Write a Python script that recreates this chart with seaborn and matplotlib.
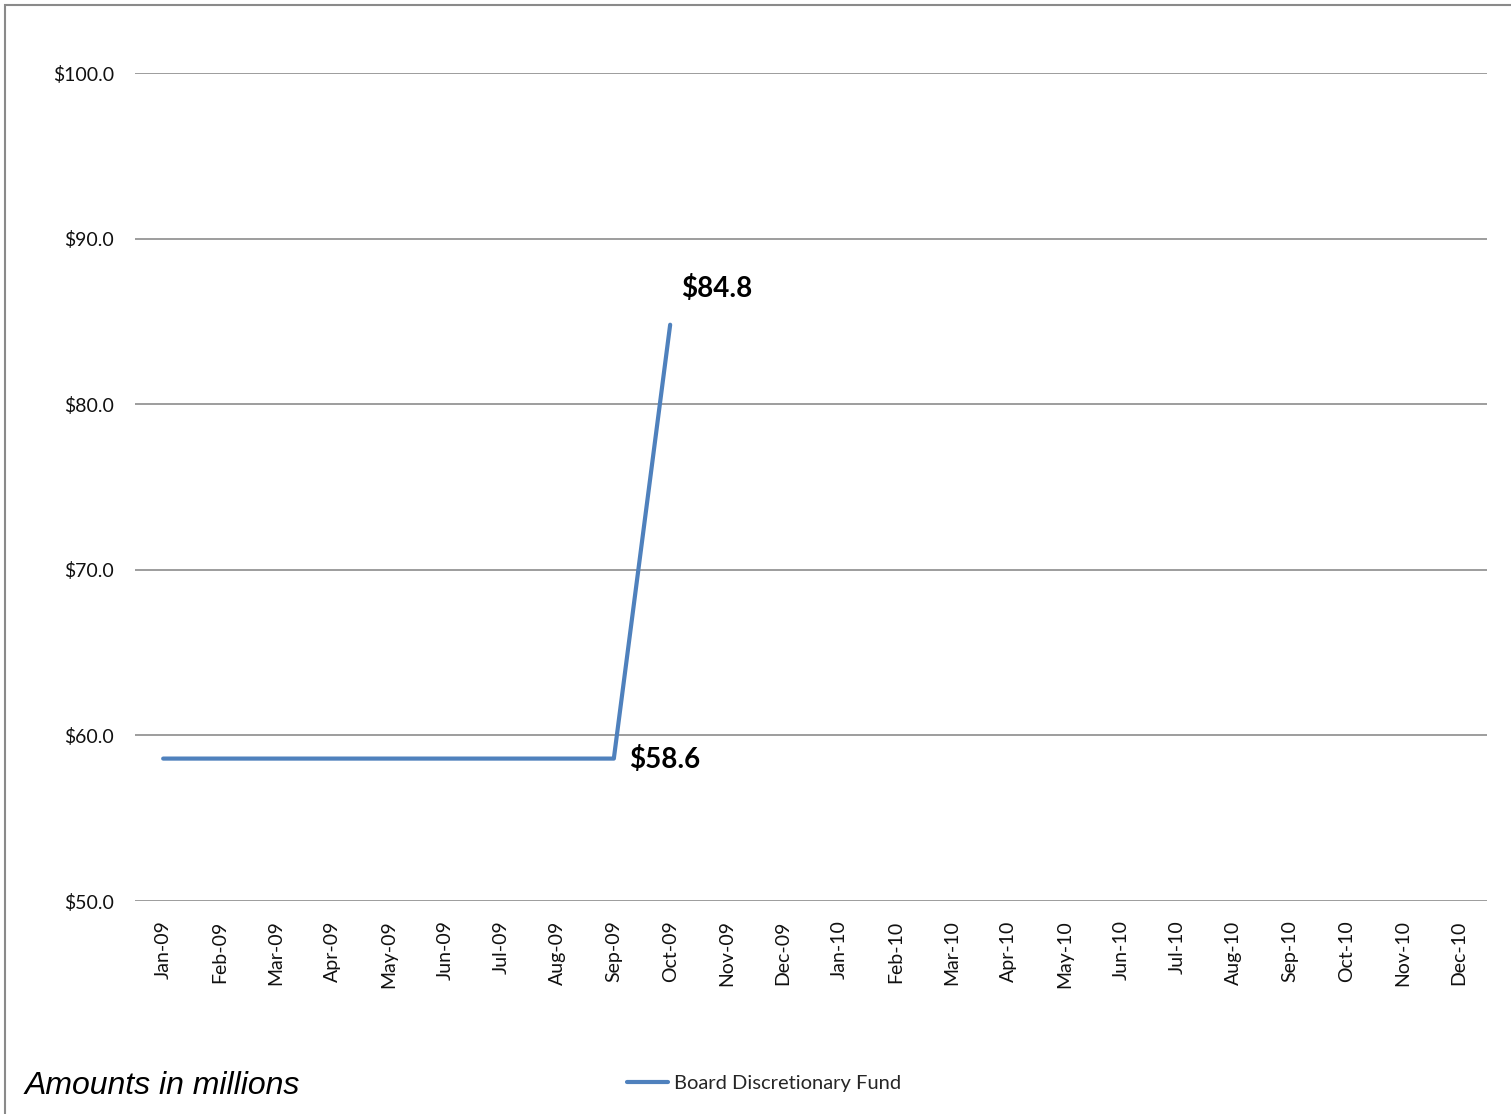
import numpy as np
import pandas as pd
import matplotlib
matplotlib.use("Agg")
import matplotlib.pyplot as plt
import seaborn as sns
from matplotlib.patches import Rectangle

# chart values
months = ['Jan-09', 'Feb-09', 'Mar-09', 'Apr-09', 'May-09', 'Jun-09',
          'Jul-09', 'Aug-09', 'Sep-09', 'Oct-09', 'Nov-09', 'Dec-09',
          'Jan-10', 'Feb-10', 'Mar-10', 'Apr-10', 'May-10', 'Jun-10',
          'Jul-10', 'Aug-10', 'Sep-10', 'Oct-10', 'Nov-10', 'Dec-10']
fund = [58.6, 58.6, 58.6, 58.6, 58.6, 58.6, 58.6, 58.6, 58.6, 84.8] + [np.nan] * 14
y_ticks = [50, 60, 70, 80, 90, 100]
series_name = 'Board Discretionary Fund'

LINE_BLUE = '#4F81BD'
GRID_GRAY = '#8C8C8C'


def main():
    sns.set_theme(style='white')
    plt.rcParams['font.family'] = ['Lato', 'DejaVu Sans']

    df = pd.DataFrame({'pos': np.arange(len(months)), 'value': fund})

    fig = plt.figure(figsize=(15.11, 11.14), dpi=100)
    ax = fig.add_axes([135 / 1511, 1 - 901 / 1114, (1487 - 135) / 1511, (901 - 73) / 1114])

    for yv in y_ticks:
        ax.axhline(yv, color=GRID_GRAY, linewidth=1.2, zorder=1)

    sns.lineplot(data=df, x='pos', y='value', ax=ax, color=LINE_BLUE,
                 linewidth=3, label=series_name, zorder=3, legend=False)

    ax.set_xlim(-0.5, len(months) - 0.5)
    ax.set_ylim(50, 100)
    ax.set_xticks(np.arange(len(months)))
    ax.set_xticklabels(months, rotation=90, fontsize=14, color='#111111')
    ax.set_yticks(y_ticks)
    ax.set_yticklabels([f'${v:.1f}' for v in y_ticks], fontsize=14, color='#111111')
    ax.tick_params(axis='x', length=0, pad=14)
    ax.tick_params(axis='y', length=0, pad=15)
    ax.set_xlabel('')
    ax.set_ylabel('')
    sns.despine(ax=ax, left=True, bottom=True)

    # value labels
    low_i, high_i = 8, 9
    ax.annotate(f'${fund[high_i]:.1f}', xy=(high_i, fund[high_i]), xytext=(8, 26),
                textcoords='offset points', fontsize=20, fontweight='bold',
                ha='left', va='center', color='black')
    ax.annotate(f'${fund[low_i]:.1f}', xy=(low_i, fund[low_i]), xytext=(11, -1),
                textcoords='offset points', fontsize=20, fontweight='bold',
                ha='left', va='center', color='black')

    handles, labels = ax.get_legend_handles_labels()
    fig.legend(handles, labels, loc='center', bbox_to_anchor=(764 / 1511, 1 - 1083 / 1114),
               frameon=False, fontsize=14.5, handlelength=2.0, handletextpad=0.3)

    fig.text(25 / 1511, 1 - 1086 / 1114, 'Amounts in millions', fontsize=23,
             style='italic', family=['Liberation Sans', 'DejaVu Sans'],
             ha='left', va='center', color='black')

    # outer chart border
    fig.patches.append(Rectangle((5 / 1511, -0.02), 1.1, 1 - 5 / 1114 + 0.02,
                                 transform=fig.transFigure, fill=False,
                                 edgecolor='#8A8A8A', linewidth=1.5))

    fig.savefig('out.png', dpi=100)
    plt.close(fig)


if __name__ == '__main__':
    main()
